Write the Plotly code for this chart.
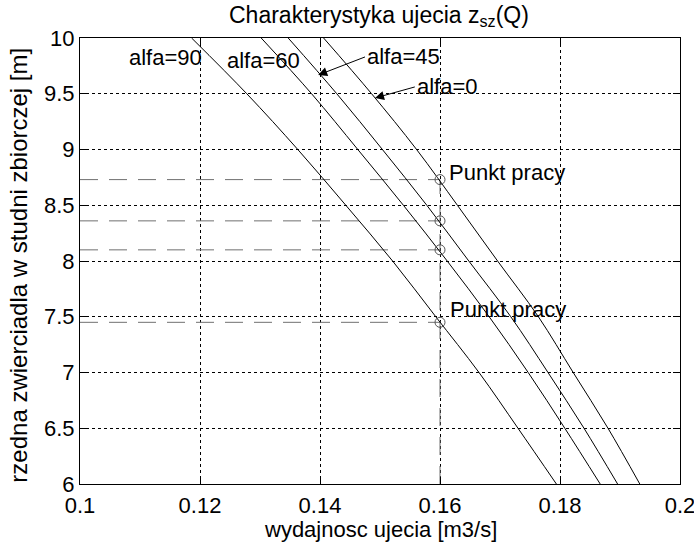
import plotly.graph_objects as go

# Water level levels (grid values) at which each curve was read
z_levels = [10.0, 9.5, 9.0, 8.5, 8.0, 7.5, 7.0, 6.5, 6.0]
# Discharge Q [m3/s] at those levels
q_alfa90 = [0.1186, 0.1278, 0.1363, 0.1443, 0.1521, 0.1593, 0.1665, 0.1730, 0.1794]
q_alfa60 = [0.1302, 0.1386, 0.1463, 0.1539, 0.1612, 0.1682, 0.1747, 0.1808, 0.1867]
q_alfa45 = [0.1347, 0.1428, 0.1504, 0.1578, 0.1648, 0.1718, 0.1780, 0.1840, 0.1896]
q_alfa0 = [0.1406, 0.1486, 0.1561, 0.1629, 0.1696, 0.1764, 0.1822, 0.1880, 0.1933]

# Working points
q_work = 0.16
z_work = [8.73, 8.36, 8.10, 7.45]

x_ticks = [0.1, 0.12, 0.14, 0.16, 0.18, 0.2]
x_ticklabels = ["0.1", "0.12", "0.14", "0.16", "0.18", "0.2"]
y_ticks = [6, 6.5, 7, 7.5, 8, 8.5, 9, 9.5, 10]
y_ticklabels = ["6", "6.5", "7", "7.5", "8", "8.5", "9", "9.5", "10"]

FONT = "Arial, Liberation Sans, Helvetica, sans-serif"

fig = go.Figure()

# helper dashed lines to working points
for zw in z_work:
    fig.add_trace(go.Scatter(x=[0.1, q_work], y=[zw, zw], mode="lines",
                             line=dict(color="#707070", width=1, dash="18px,11px"),
                             showlegend=False, hoverinfo="skip"))
fig.add_trace(go.Scatter(x=[q_work, q_work], y=[6, max(z_work)], mode="lines",
                         line=dict(color="#707070", width=1, dash="18px,11px"),
                         showlegend=False, hoverinfo="skip"))

for q in [q_alfa90, q_alfa60, q_alfa45, q_alfa0]:
    fig.add_trace(go.Scatter(x=q, y=z_levels, mode="lines",
                             line=dict(color="black", width=1, shape="spline"),
                             showlegend=False))

fig.add_trace(go.Scatter(x=[q_work] * len(z_work), y=z_work, mode="markers",
                         marker=dict(symbol="circle-open", size=10,
                                     color="#555555", line=dict(width=1)),
                         showlegend=False))

axis_common = dict(
    showline=True, linecolor="black", linewidth=1, mirror="ticks",
    ticks="inside", ticklen=7, tickcolor="black", tickwidth=1,
    showgrid=True, gridcolor="black", gridwidth=1, griddash="3px,3px",
    zeroline=False, tickfont=dict(family=FONT, size=22, color="black"),
    ticklabeloverflow="allow", automargin=False,
)

fig.update_xaxes(range=[0.1, 0.2], tickvals=x_ticks, ticktext=x_ticklabels,
                 ticklabelstandoff=2, **axis_common)
fig.update_yaxes(range=[6, 10], tickvals=y_ticks, ticktext=y_ticklabels, **axis_common)

ann_font = dict(family=FONT, size=22, color="black")
annotations = [
    dict(x=0.10783, y=9.821, text="alfa=90", showarrow=False, xanchor="left", yanchor="middle"),
    dict(x=0.12417, y=9.794, text="alfa=60", showarrow=False, xanchor="left", yanchor="middle"),
    dict(x=0.1397, y=9.668, ax=0.1475, ay=9.83, axref="x", ayref="y", text="alfa=45",
         showarrow=True, arrowhead=2, arrowsize=1.8, arrowwidth=1, arrowcolor="black",
         xanchor="left", yanchor="middle"),
    dict(x=0.14917, y=9.462, ax=0.1558, ay=9.561, axref="x", ayref="y", text="alfa=0",
         showarrow=True, arrowhead=2, arrowsize=1.8, arrowwidth=1, arrowcolor="black",
         xanchor="left", yanchor="middle"),
    dict(x=0.16117, y=8.798, text="Punkt pracy", showarrow=False, xanchor="left", yanchor="middle"),
    dict(x=0.16133, y=7.561, text="Punkt pracy", showarrow=False, xanchor="left", yanchor="middle"),
]
for a in annotations:
    a.setdefault("xref", "x")
    a.setdefault("yref", "y")
    a["font"] = ann_font
    fig.add_annotation(**a)

# axis titles
fig.add_annotation(xref="paper", yref="paper", x=0.5, y=-0.103,
                   text="wydajnosc ujecia [m3/s]", showarrow=False,
                   xanchor="center", yanchor="middle",
                   font=dict(family=FONT, size=22, color="black"))
fig.add_annotation(xref="paper", yref="paper", x=-0.103, y=0.49,
                   text="rzedna zwierciadla w studni zbiorczej [m]", showarrow=False,
                   textangle=-90, xanchor="center", yanchor="middle",
                   font=dict(family=FONT, size=24, color="black"))

fig.update_layout(
    width=694, height=543,
    margin=dict(l=80, r=14, t=38, b=59, autoexpand=False),
    paper_bgcolor="white", plot_bgcolor="white",
    title=dict(text="Charakterystyka ujecia z<sub>sz</sub>(Q)", x=0.546, xanchor="center",
               y=0.988, yanchor="top", font=dict(family=FONT, size=23, color="black")),
    showlegend=False,
)

fig.write_html("out.html")
